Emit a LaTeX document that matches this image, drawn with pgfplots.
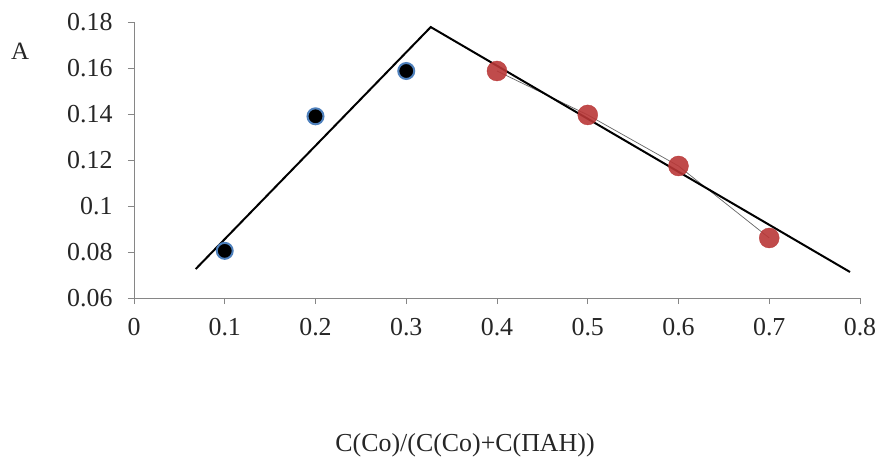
\documentclass[border=0pt]{standalone}
\usepackage{pgfplots}
\pgfplotsset{compat=1.18}
\usepackage{fontspec}
\setmainfont{Liberation Serif}
\definecolor{ptblue}{RGB}{79,129,189}
\definecolor{ptred}{RGB}{185,55,55}
\definecolor{axgray}{RGB}{134,134,134}
\begin{document}
\begin{tikzpicture}
\useasboundingbox (-134bp,-162bp) rectangle (743bp,298bp);
\begin{axis}[
  at={(0,0)}, anchor=south west,
  scale only axis, width=726bp, height=276bp,
  xmin=0, xmax=0.8, ymin=0.06, ymax=0.18,
  axis x line*=bottom, axis y line*=left,
  axis line style={axgray, line width=0.8bp, -},
  xtick={0,0.1,...,0.8}, ytick={0.06,0.08,...,0.18},
  tick style={axgray, line width=0.8bp},
  tick align=outside, major tick length=6bp,
  xticklabels={0,0.1,0.2,0.3,0.4,0.5,0.6,0.7,0.8},
  yticklabels={0.06,0.08,0.1,0.12,0.14,0.16,0.18},
  /pgf/number format/assume math mode=true,
  tick label style={font=\fontsize{26}{30}\selectfont, text=black!85},
  xticklabel style={yshift=-11bp},
  yticklabel style={xshift=-12bp},
  clip=false,
]
% thin series line through red points
\addplot[black!60, line width=0.7bp] coordinates {(0.4,0.1587) (0.5,0.1396) (0.6,0.1174) (0.7,0.0861)};
% trend lines
\addplot[black, line width=2bp] coordinates {(0.068,0.0726) (0.327,0.1778) (0.789,0.0713)};
% blue-outlined points
\addplot[only marks, mark=*, mark size=8bp, mark options={draw=ptblue, fill=black, line width=2bp}] coordinates {(0.1,0.0805) (0.2,0.139) (0.3,0.1587)};
% red points
\addplot[only marks, mark=*, mark size=10bp, mark options={draw=ptred, fill=ptred, fill opacity=0.9, draw opacity=0.9}] coordinates {(0.4,0.1587) (0.5,0.1396) (0.6,0.1174) (0.7,0.0861)};
\node[font=\fontsize{26}{30}\selectfont, text=black!85] at (axis description cs:0.456,0) [yshift=-147bp] {C(Co)/(C(Co)+C(ПАН))};
\node[font=\fontsize{25}{30}\selectfont, text=black!85] at (axis description cs:0,0.895) [xshift=-114bp] {A};
\end{axis}
\end{tikzpicture}
\end{document}
